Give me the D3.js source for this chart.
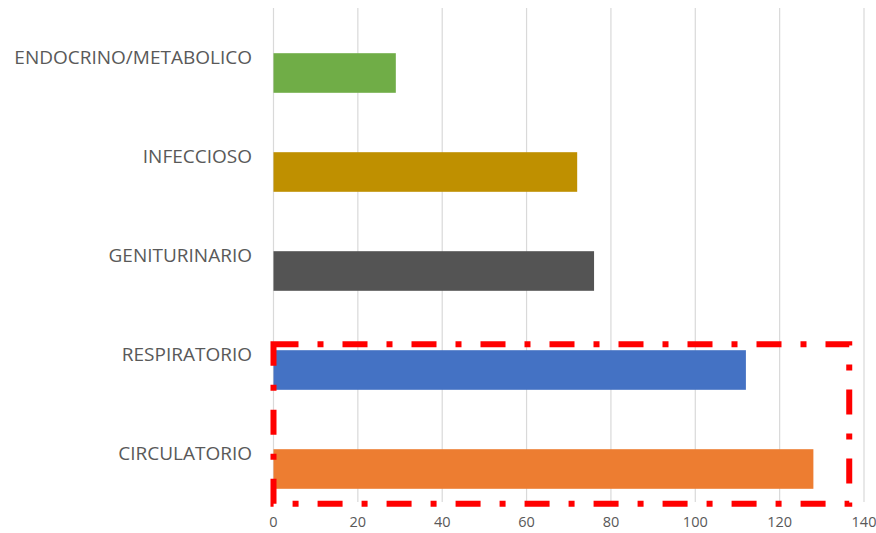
<!DOCTYPE html>
<html>
<head>
<meta charset="utf-8">
<script src="https://cdn.jsdelivr.net/npm/d3@7"></script>
<style>
  html, body { margin: 0; padding: 0; background: #fff; }
  svg { display: block; }
</style>
</head>
<body>
<svg id="chart" width="876" height="533"></svg>
<script>
const categories = ["ENDOCRINO/METABOLICO", "INFECCIOSO", "GENITURINARIO", "RESPIRATORIO", "CIRCULATORIO"];
const values = [29, 72, 76, 112, 128];
const colors = ["#70AD47", "#BF9000", "#545454", "#4472C4", "#ED7D31"];
const xTicks = [0, 20, 40, 60, 80, 100, 120, 140];
const highlighted = ["RESPIRATORIO", "CIRCULATORIO"];

const svg = d3.select("#chart");
const font = "'Open Sans', Lato, sans-serif";

const x = d3.scaleLinear().domain([0, 140]).range([273.5, 864]);
const y = d3.scaleBand().domain(categories).range([23.5, 518.5]).paddingInner(0.6).paddingOuter(0.3);

const gridTop = 8, gridBottom = 502;

// gridlines
svg.append("g").selectAll("line").data(xTicks).join("line")
  .attr("x1", d => x(d)).attr("x2", d => x(d))
  .attr("y1", gridTop).attr("y2", gridBottom)
  .attr("stroke", "#d9d9d9").attr("stroke-width", 1.2);

// x tick labels
svg.append("g").selectAll("text").data(xTicks).join("text")
  .attr("x", d => x(d)).attr("y", 527)
  .attr("text-anchor", "middle")
  .attr("font-family", font).attr("font-size", 14.5)
  .attr("fill", "#595959")
  .text(d => d);

// bars
svg.append("g").selectAll("rect").data(categories).join("rect")
  .attr("x", x(0))
  .attr("y", d => y(d))
  .attr("width", (d, i) => x(values[i]) - x(0))
  .attr("height", y.bandwidth())
  .attr("fill", (d, i) => colors[i]);

// category labels
svg.append("g").selectAll("text").data(categories).join("text")
  .attr("x", 252)
  .attr("y", d => y(d) + y.bandwidth() / 2 - 9.5)
  .attr("text-anchor", "end")
  .attr("font-family", font).attr("font-size", 19)
  .attr("fill", "#595959")
  .text(d => d);

// highlight box around the two top categories
const hTop = y(highlighted[0]) - 6;
const hBottom = y(highlighted[1]) + y.bandwidth() + 15;
const hRight = x(136.5);
svg.append("rect")
  .attr("x", x(0)).attr("y", hTop)
  .attr("width", hRight - x(0)).attr("height", hBottom - hTop)
  .attr("fill", "none")
  .attr("stroke", "#FF0000").attr("stroke-width", 6)
  .attr("stroke-dasharray", "25,19,6,19");
</script>
</body>
</html>
